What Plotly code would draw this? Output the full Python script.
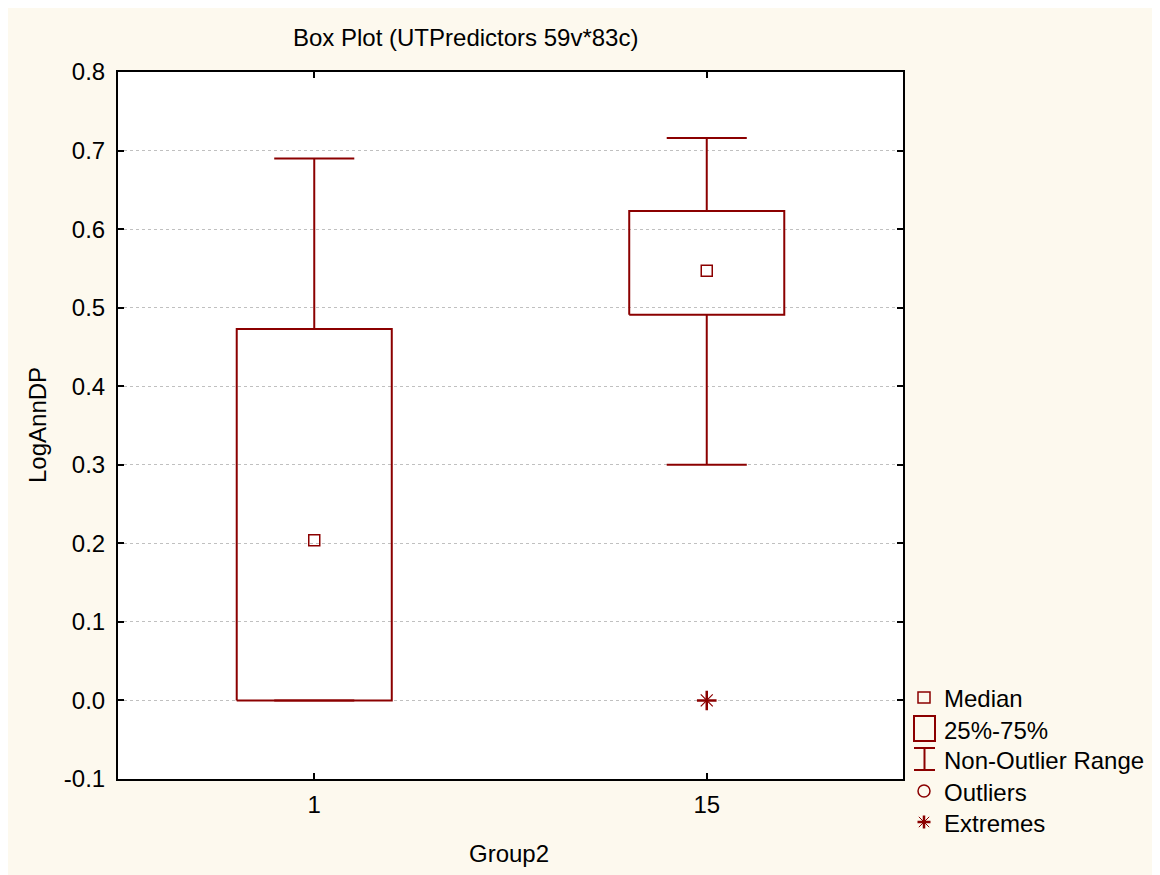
import plotly.graph_objects as go

# ---- data ----
categories = ["1", "15"]
whisker_low = [0.0, 0.300]
q1 = [0.0, 0.491]
median = [0.204, 0.547]
q3 = [0.473, 0.623]
whisker_high = [0.690, 0.716]
extreme_cat = ["15"]
extreme_val = [0.0]
y_tickvals = [-0.1, 0.0, 0.1, 0.2, 0.3, 0.4, 0.5, 0.6, 0.7, 0.8]
y_ticktext = ["-0.1", "0.0", "0.1", "0.2", "0.3", "0.4", "0.5", "0.6", "0.7", "0.8"]

title_text = "Box Plot (UTPredictors 59v*83c)"
x_title = "Group2"
y_title = "LogAnnDP"
legend_labels = ["Median", "25%-75%", "Non-Outlier Range", "Outliers", "Extremes"]

# ---- style ----
RED = "#8B0000"
BG = "#FDF9EE"
FONT = "Arial, Liberation Sans, sans-serif"
OFF = 8  # default page body margin
W, H = 1160 - OFF, 875 - OFF
ML, MT = 118 - OFF, 72 - OFF
PLOT_R, PLOT_B = 903 - OFF, 779 - OFF
MR, MB = W - PLOT_R, H - PLOT_B
BOX_HW = 0.1975
CAP_HW = 0.102
FS = 24

pos = list(range(len(categories)))

fig = go.Figure()

# boxes
bx, by = [], []
for i in pos:
    bx += [i - BOX_HW, i + BOX_HW, i + BOX_HW, i - BOX_HW, i - BOX_HW, None]
    by += [q1[i], q1[i], q3[i], q3[i], q1[i], None]
fig.add_trace(go.Scatter(x=bx, y=by, mode="lines", line=dict(color=RED, width=2),
                         showlegend=False, hoverinfo="skip"))

# whiskers
wx, wy = [], []
for i in pos:
    wx += [i, i, None, i, i, None, i - CAP_HW, i + CAP_HW, None, i - CAP_HW, i + CAP_HW, None]
    wy += [q3[i], whisker_high[i], None, q1[i], whisker_low[i], None,
           whisker_high[i], whisker_high[i], None, whisker_low[i], whisker_low[i], None]
fig.add_trace(go.Scatter(x=wx, y=wy, mode="lines", line=dict(color=RED, width=2),
                         showlegend=False, hoverinfo="skip"))

# medians
fig.add_trace(go.Scatter(x=pos, y=median, mode="markers",
                         marker=dict(symbol="square-open", size=11, color=RED, line=dict(width=1.5, color=RED)),
                         showlegend=False))

# extremes (bold plus + thin diagonals)
ex = [categories.index(c) for c in extreme_cat]
fig.add_trace(go.Scatter(x=ex, y=extreme_val, mode="markers",
                         marker=dict(symbol="x-thin-open", size=12, color=RED, line=dict(width=1.2, color=RED)),
                         showlegend=False, cliponaxis=False))
fig.add_trace(go.Scatter(x=ex, y=extreme_val, mode="markers",
                         marker=dict(symbol="cross-thin-open", size=14, color=RED, line=dict(width=2.5, color=RED)),
                         showlegend=False, cliponaxis=False))

# ---- legend (drawn manually in margin) ----
PW = W - ML - MR
PH = H - MT - MB


def xp(px):
    return (px - OFF - ML) / PW


def yp(py):
    return (H - MB - (py - OFF)) / PH


shapes = []
shapes.append(dict(type="rect", xref="paper", yref="paper", x0=xp(918), x1=xp(930), y0=yp(703), y1=yp(692),
                   line=dict(color=RED, width=1.5)))
shapes.append(dict(type="rect", xref="paper", yref="paper", x0=xp(914), x1=xp(935), y0=yp(741), y1=yp(716),
                   line=dict(color=RED, width=2)))
for (a, b, c, d) in [(914, 748, 935, 748), (914, 770, 935, 770), (924.5, 748, 924.5, 770)]:
    shapes.append(dict(type="line", xref="paper", yref="paper", x0=xp(a), y0=yp(b), x1=xp(c), y1=yp(d),
                       line=dict(color=RED, width=2)))
shapes.append(dict(type="circle", xref="paper", yref="paper", x0=xp(918), x1=xp(930), y0=yp(797), y1=yp(785),
                   line=dict(color=RED, width=1.5)))
cx, cy, r = 924, 822, 6.5
shapes.append(dict(type="line", xref="paper", yref="paper", x0=xp(cx - r), y0=yp(cy), x1=xp(cx + r), y1=yp(cy),
                   line=dict(color=RED, width=2.5)))
shapes.append(dict(type="line", xref="paper", yref="paper", x0=xp(cx), y0=yp(cy - r), x1=xp(cx), y1=yp(cy + r),
                   line=dict(color=RED, width=2.5)))
dd = r * 0.8
shapes.append(dict(type="line", xref="paper", yref="paper", x0=xp(cx - dd), y0=yp(cy - dd), x1=xp(cx + dd),
                   y1=yp(cy + dd), line=dict(color=RED, width=1)))
shapes.append(dict(type="line", xref="paper", yref="paper", x0=xp(cx - dd), y0=yp(cy + dd), x1=xp(cx + dd),
                   y1=yp(cy - dd), line=dict(color=RED, width=1)))

annotations = []
leg_y = [698, 730, 760, 792, 823]
for lab, ly in zip(legend_labels, leg_y):
    annotations.append(dict(text=lab, xref="paper", yref="paper", x=xp(942), y=yp(ly), xanchor="left",
                            yanchor="middle", showarrow=False, font=dict(size=FS, color="black", family=FONT)))

annotations.append(dict(text=title_text, xref="paper", yref="paper", x=xp(465), y=yp(38), xanchor="center",
                        yanchor="middle", showarrow=False, font=dict(size=FS, color="black", family=FONT)))
annotations.append(dict(text=x_title, xref="paper", yref="paper", x=xp(509), y=yp(853), xanchor="center",
                        yanchor="middle", showarrow=False, font=dict(size=FS, color="black", family=FONT)))
annotations.append(dict(text=y_title, xref="paper", yref="paper", x=xp(37), y=yp(425), xanchor="center",
                        yanchor="middle", textangle=-90, showarrow=False,
                        font=dict(size=FS, color="black", family=FONT)))

fig.update_layout(
    width=W, height=H,
    margin=dict(l=ML, r=MR, t=MT, b=MB, pad=0),
    paper_bgcolor=BG, plot_bgcolor="white",
    font=dict(family=FONT, size=FS, color="black"),
    shapes=shapes, annotations=annotations,
    showlegend=False,
)
fig.update_xaxes(range=[-0.5, 1.5], tickvals=pos, ticktext=categories, showgrid=False, zeroline=False,
                 showline=True, linecolor="black", linewidth=2, mirror="ticks",
                 ticks="inside", ticklen=6, tickwidth=1.5, tickcolor="black",
                 tickfont=dict(size=FS, family=FONT, color="black"), ticklabelstandoff=3)
fig.update_yaxes(range=[-0.1, 0.8], tickvals=y_tickvals, ticktext=y_ticktext, showgrid=True, gridcolor="#C0C0C0",
                 griddash="dot", gridwidth=1, zeroline=False,
                 showline=True, linecolor="black", linewidth=2, mirror="ticks",
                 ticks="inside", ticklen=6, tickwidth=1.5, tickcolor="black",
                 tickfont=dict(size=FS, family=FONT, color="black"), ticklabelstandoff=6)

fig.write_html("out.html")
